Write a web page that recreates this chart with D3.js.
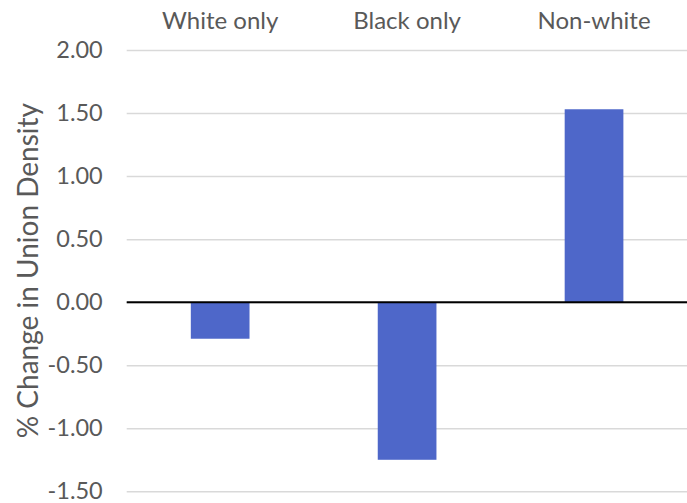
<!DOCTYPE html>
<html>
<head>
<meta charset="utf-8">
<script src="https://cdn.jsdelivr.net/npm/d3@7"></script>
<style>
  html, body { margin: 0; padding: 0; background: #fff; }
  svg { display: block; font-family: Lato, "Open Sans", sans-serif; }
</style>
</head>
<body>
<svg id="chart" width="687" height="503"></svg>
<script>
// Change in union density by group
const categories = ["White only", "Black only", "Non-white"];
const values = [-0.29, -1.25, 1.53];
const tickValues = [-1.5, -1.0, -0.5, 0.0, 0.5, 1.0, 1.5, 2.0];
const tickLabels = ["-1.50", "-1.00", "-0.50", "0.00", "0.50", "1.00", "1.50", "2.00"];
const yTitle = "% Change in Union Density";

(function () {
  const svg = d3.select("#chart");
  const mLeft = 126.7, mRight = 687.5, mTop = 50, mBottom = 491.3;
  const textColor = "#595959";

  const x = d3.scaleBand()
    .domain(categories)
    .range([mLeft, mRight])
    .paddingInner(0.686)
    .paddingOuter(0.343);

  const y = d3.scaleLinear()
    .domain([-1.5, 2.0])
    .range([mBottom, mTop]);

  // gridlines
  const grid = svg.append("g")
    .attr("transform", `translate(${mLeft},0)`)
    .call(d3.axisRight(y).tickValues(tickValues).tickSize(mRight - mLeft).tickFormat(""));
  grid.select(".domain").remove();
  grid.selectAll(".tick line").attr("stroke", "#d9d9d9").attr("stroke-width", 1.5);

  // y tick labels
  const yAxis = svg.append("g")
    .attr("transform", `translate(${mLeft},0)`)
    .call(d3.axisLeft(y).tickValues(tickValues).tickSize(0).tickPadding(24)
      .tickFormat((d, i) => tickLabels[i]));
  yAxis.select(".domain").remove();
  yAxis.selectAll("text")
    .attr("fill", textColor)
    .style("font-size", "23.5px")
    .style("font-family", "Lato, sans-serif");

  // bars
  svg.append("g").selectAll("rect")
    .data(values)
    .join("rect")
    .attr("x", (d, i) => x(categories[i]))
    .attr("width", x.bandwidth())
    .attr("y", d => y(Math.max(0, d)))
    .attr("height", d => Math.abs(y(d) - y(0)))
    .attr("fill", "#4e67c9");

  // zero line
  svg.append("line")
    .attr("x1", mLeft).attr("x2", mRight)
    .attr("y1", y(0)).attr("y2", y(0))
    .attr("stroke", "#000").attr("stroke-width", 2);

  // category labels across the top
  const xAxis = svg.append("g")
    .attr("transform", `translate(0,${mTop})`)
    .call(d3.axisTop(x).tickSize(0).tickPadding(21.5));
  xAxis.select(".domain").remove();
  xAxis.selectAll("text")
    .attr("fill", textColor)
    .style("font-size", "24px")
    .style("font-family", "Lato, sans-serif");

  // y-axis title
  svg.append("text")
    .attr("transform", `translate(37.5,${(mTop + mBottom) / 2}) rotate(-90)`)
    .attr("text-anchor", "middle")
    .attr("fill", textColor)
    .style("font-size", "28px")
    .text(yTitle);
})();
</script>
</body>
</html>
